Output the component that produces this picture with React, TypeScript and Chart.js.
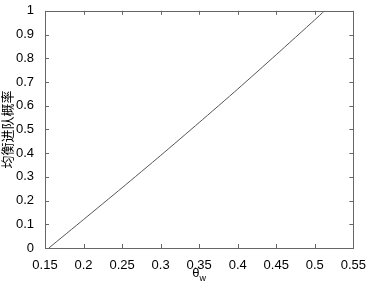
import React, { useEffect, useRef } from "react";
import { Chart, registerables } from "chart.js";

Chart.register(...registerables);

const thetaW = [0.155, 0.2, 0.25, 0.3, 0.35, 0.4, 0.45, 0.5, 0.5126];
const probability = [0, 0.12, 0.254, 0.39, 0.529, 0.67, 0.815, 0.962, 1.0];
const xTicks = [0.15, 0.2, 0.25, 0.3, 0.35, 0.4, 0.45, 0.5, 0.55];
const yTicks = [0, 0.1, 0.2, 0.3, 0.4, 0.5, 0.6, 0.7, 0.8, 0.9, 1];
const yTitle = "均衡进队概率";
const xTitleMain = "θ";
const xTitleSub = "w";

const framePlugin = {
  id: "frame",
  afterDraw(chart: any) {
    const { ctx, chartArea: a, scales } = chart;
    const xs = scales.x;
    const ys = scales.y;
    ctx.save();
    ctx.strokeStyle = "#666";
    ctx.lineWidth = 1;
    ctx.strokeRect(Math.round(a.left) + 0.5, Math.round(a.top) + 0.5, Math.round(a.right - a.left), Math.round(a.bottom - a.top));
    const tl = 4;
    ctx.beginPath();
    xTicks.forEach((v) => {
      const px = Math.round(xs.getPixelForValue(v)) + 0.5;
      ctx.moveTo(px, a.bottom);
      ctx.lineTo(px, a.bottom - tl);
      ctx.moveTo(px, a.top);
      ctx.lineTo(px, a.top + tl);
    });
    yTicks.forEach((v) => {
      const py = Math.round(ys.getPixelForValue(v)) + 0.5;
      ctx.moveTo(a.left, py);
      ctx.lineTo(a.left + tl, py);
      ctx.moveTo(a.right, py);
      ctx.lineTo(a.right - tl, py);
    });
    ctx.stroke();

    // y title
    ctx.fillStyle = "#000";
    ctx.font = '13px "Noto Sans CJK SC"';
    ctx.textAlign = "center";
    ctx.textBaseline = "middle";
    ctx.save();
    ctx.translate(7, (a.top + a.bottom) / 2);
    ctx.rotate(-Math.PI / 2);
    ctx.fillText(yTitle, 0, 0);
    ctx.restore();

    // x title with subscript
    const cx = (a.left + a.right) / 2;
    ctx.font = '13px "Liberation Sans"';
    const w1 = ctx.measureText(xTitleMain).width;
    ctx.font = '9px "Liberation Sans"';
    const w2 = ctx.measureText(xTitleSub).width;
    const start = cx - (w1 + w2) / 2;
    ctx.textAlign = "left";
    ctx.textBaseline = "alphabetic";
    ctx.font = '13px "Liberation Sans"';
    ctx.fillText(xTitleMain, start, 277);
    ctx.font = '9px "Liberation Sans"';
    ctx.fillText(xTitleSub, start + w1, 281);
    ctx.restore();
  },
};

export default function App() {
  const ref = useRef<HTMLCanvasElement>(null);
  useEffect(() => {
    document.body.style.margin = "0";
    const chart = new Chart(ref.current!, {
      type: "line",
      data: {
        datasets: [
          {
            data: thetaW.map((x, i) => ({ x, y: probability[i] })),
            borderColor: "#555",
            borderWidth: 1,
            pointRadius: 0,
            tension: 0.2,
            fill: false,
          },
        ],
      },
      options: {
        animation: false,
        responsive: false,
        maintainAspectRatio: false,
        layout: { padding: { top: 5, right: 13, left: 0, bottom: 0 } },
        plugins: { legend: { display: false }, tooltip: { enabled: false } },
        scales: {
          x: {
            type: "linear",
            min: 0.15,
            max: 0.55,
            afterBuildTicks: (s: any) => {
              s.ticks = xTicks.map((v) => ({ value: v }));
            },
            afterFit: (s: any) => {
              s.height = 35;
            },
            grid: { display: false },
            border: { display: false },
            ticks: {
              color: "#000",
              font: { family: "Liberation Sans", size: 13 },
              padding: 2,
              maxRotation: 0,
              autoSkip: false,
              callback: (v: any) => String(Number(v)),
            },
          },
          y: {
            min: 0,
            max: 1,
            afterBuildTicks: (s: any) => {
              s.ticks = yTicks.map((v) => ({ value: v }));
            },
            afterFit: (s: any) => {
              s.width = 45;
            },
            grid: { display: false },
            border: { display: false },
            ticks: {
              color: "#000",
              font: { family: "Liberation Sans", size: 13 },
              padding: 3,
              autoSkip: false,
              callback: (v: any) => String(Number(v)),
            },
          },
        },
      },
      plugins: [framePlugin],
    });
    return () => chart.destroy();
  }, []);
  return <canvas ref={ref} width={368} height={283} style={{ display: "block" }} />;
}
